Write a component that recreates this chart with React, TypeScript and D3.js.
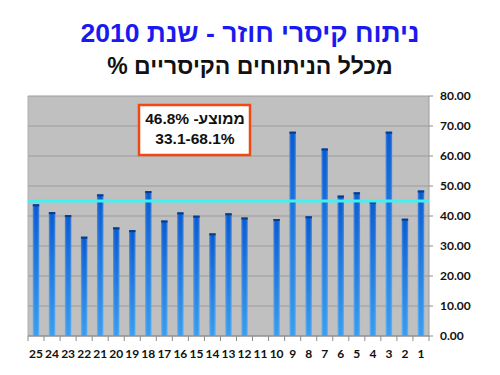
import * as d3 from 'd3'

const CATEGORIES = ['25', '24', '23', '22', '21', '20', '19', '18', '17', '16', '15', '14', '13', '12', '11', '10', '9', '8', '7', '6', '5', '4', '3', '2', '1']
// null = no value (hospital 11)
const VALUES: (number | null)[] = [43.9, 41.3, 40.3, 33.1, 47.2, 36.2, 35.3, 48.3, 38.5, 41.2, 40.1, 34.2, 40.9, 39.5, null, 39.0, 68.1, 39.9, 62.5, 46.8, 47.9, 44.8, 68.1, 39.1, 48.5]
const Y_TICKS = [0, 10, 20, 30, 40, 50, 60, 70, 80]
const REF_LINE = 45
const TITLE = 'ניתוח קיסרי חוזר - שנת 2010'
const SUBTITLE = 'מכלל הניתוחים הקיסריים %'
const NOTE_LINES = ['ממוצע- 46.8%', '33.1-68.1%']

const W = 500
const H = 375
const plot = { left: 28, right: 429, top: 96, bottom: 336 }

const rtl = { direction: 'rtl', unicodeBidi: 'embed' } as const

export default function App() {
  const x = d3.scaleBand<string>()
    .domain(CATEGORIES)
    .range([plot.left, plot.right])
    .paddingInner(0.6)
    .paddingOuter(0.3)

  const step = (plot.right - plot.left) / CATEGORIES.length

  const y = d3.scaleLinear()
    .domain([0, 80])
    .range([plot.bottom, plot.top])

  const font = '"Liberation Sans", Arial, "DejaVu Sans", sans-serif'
  const axisFont = 'Lato, "Liberation Sans", sans-serif'

  return (
    <svg width={W} height={H} style={{ position: 'absolute', left: 0, top: 0, background: '#fff' }}>
      <defs>
        <linearGradient id="barGrad" x1="0" y1="0" x2="0" y2="1">
          <stop offset="0%" stopColor="#0a5cd2" />
          <stop offset="100%" stopColor="#3a9ef0" />
        </linearGradient>
        <linearGradient id="barShine" x1="0" y1="0" x2="1" y2="0">
          <stop offset="0%" stopColor="#ffffff" stopOpacity={0.25} />
          <stop offset="30%" stopColor="#ffffff" stopOpacity={0} />
          <stop offset="70%" stopColor="#ffffff" stopOpacity={0} />
          <stop offset="100%" stopColor="#ffffff" stopOpacity={0.25} />
        </linearGradient>
      </defs>

      {/* titles */}
      <text x={W / 2} y={42} textAnchor="middle" fill="#1a1af0" style={rtl}
        fontFamily={font} fontWeight="bold" fontSize={26.5}>{TITLE}</text>
      <text x={W / 2} y={74} textAnchor="middle" fill="#111" style={rtl}
        fontFamily={font} fontWeight="bold" fontSize={23}>{SUBTITLE}</text>

      {/* plot background */}
      <rect x={plot.left} y={plot.top} width={plot.right - plot.left} height={plot.bottom - plot.top} fill="#c0c0c0" />

      {/* gridlines */}
      {Y_TICKS.map(t => (
        <line key={t} x1={plot.left} x2={plot.right} y1={y(t)} y2={y(t)} stroke="#9c9c9c" strokeWidth={1} />
      ))}
      <line x1={plot.left} x2={plot.left} y1={plot.top} y2={plot.bottom} stroke="#b0b0b0" />
      <line x1={plot.right} x2={plot.right} y1={plot.top} y2={plot.bottom} stroke="#9c9c9c" />

      {/* bars */}
      {CATEGORIES.map((c, i) => {
        const v = VALUES[i]
        if (v == null) return null
        const bx = x(c) ?? 0
        const bw = x.bandwidth()
        return (
          <g key={c}>
            <rect x={bx} y={y(v)} width={bw} height={plot.bottom - y(v)} fill="url(#barGrad)" />
            <rect x={bx} y={y(v)} width={bw} height={plot.bottom - y(v)} fill="url(#barShine)" />
            <rect x={bx} y={y(v)} width={bw} height={2} fill="#063c8c" />
          </g>
        )
      })}

      {/* reference line */}
      <line x1={plot.left} x2={plot.right} y1={y(REF_LINE)} y2={y(REF_LINE)} stroke="#3ef2f2" strokeWidth={3} />

      {/* x ticks & labels */}
      {d3.range(CATEGORIES.length + 1).map(i => (
        <line key={i} x1={plot.left + i * step} x2={plot.left + i * step} y1={plot.bottom} y2={plot.bottom + 5} stroke="#8c8c8c" />
      ))}
      <line x1={plot.left} x2={plot.right} y1={plot.bottom} y2={plot.bottom} stroke="#8c8c8c" />
      {CATEGORIES.map(c => (
        <text key={c} x={(x(c) ?? 0) + x.bandwidth() / 2} y={358} textAnchor="middle"
          fontFamily={axisFont} fontWeight="bold" fontSize={12} fill="#111">{c}</text>
      ))}

      {/* y axis (right) */}
      {Y_TICKS.map(t => (
        <g key={t}>
          <line x1={plot.right} x2={plot.right + 4} y1={y(t)} y2={y(t)} stroke="#8c8c8c" />
          <text x={440} y={y(t)} dy="0.35em" fontFamily={axisFont} fontWeight="bold" fontSize={12} fill="#111">
            {d3.format('.2f')(t)}
          </text>
        </g>
      ))}

      {/* note box */}
      <rect x={139} y={105} width={111} height={50} fill="#fff" stroke="#f04a14" strokeWidth={2.5} />
      {NOTE_LINES.map((l, i) => (
        <text key={i} x={195} y={124 + i * 20} textAnchor="middle" style={rtl}
          fontFamily={font} fontWeight="bold" fontSize={15.5} fill="#111">{l}</text>
      ))}
    </svg>
  )
}
